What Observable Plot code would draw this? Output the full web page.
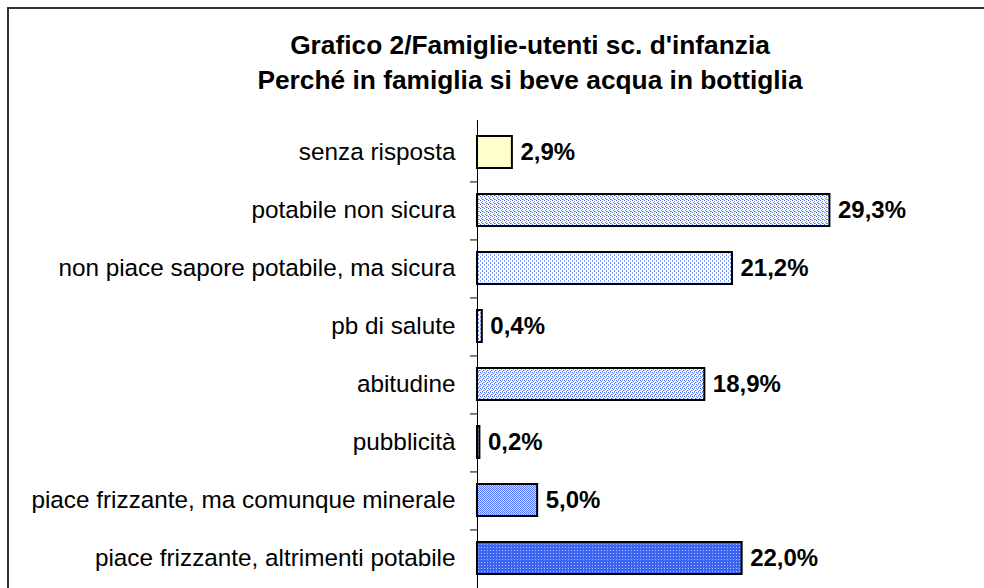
<!DOCTYPE html>
<html>
<head>
<meta charset="utf-8">
<script src="https://cdn.jsdelivr.net/npm/d3@7"></script>
<script src="https://cdn.jsdelivr.net/npm/@observablehq/plot@0.6"></script>
<style>
  html, body { margin: 0; padding: 0; background: #fff; overflow: hidden; width: 984px; height: 588px; }
  #wrap { position: relative; width: 984px; height: 588px; overflow: hidden; }
  #frame { position: absolute; left: 7px; top: 7px; width: 1100px; height: 700px; border: 2px solid #333; box-sizing: border-box; }
  #title { position: absolute; left: 130px; width: 800px; top: 28px; text-align: center;
           font-family: Arial, "Liberation Sans", sans-serif; font-weight: bold; font-size: 26.3px; line-height: 35px; color: #000; }
  #chart { position: absolute; left: 0; top: 0; }
</style>
</head>
<body>
<div id="wrap">
  <div id="frame"></div>
  <div id="chart"></div>
  <div id="title">Grafico 2/Famiglie-utenti sc. d'infanzia<br>Perché in famiglia si beve acqua in bottiglia</div>
</div>
<script>
const categories = [
  "senza risposta",
  "potabile non sicura",
  "non piace sapore potabile, ma sicura",
  "pb di salute",
  "abitudine",
  "pubblicità",
  "piace frizzante, ma comunque minerale",
  "piace frizzante, altrimenti potabile"
];
const values = [2.9, 29.3, 21.2, 0.4, 18.9, 0.2, 5.0, 22.0];
const patterns = ["pYellow", "pDotsFine", "pDotsSparse", "pDotsSparse", "pDotsMed", "pDotsMed", "pChecker", "pBlue"];

const data = categories.map((c, i) => ({category: c, value: values[i], fill: `url(#${patterns[i]})`}));

const W = 984, H = 591, mTop = 120, mBottom = 0, mLeft = 477, mRight = 86;
const step = (H - mTop - mBottom) / categories.length;

const plot = Plot.plot({
  width: W,
  height: H,
  marginTop: mTop,
  marginBottom: mBottom,
  marginLeft: mLeft,
  marginRight: mRight,
  style: {fontFamily: "Arial, 'Liberation Sans', sans-serif", fontSize: "24px", color: "#000", background: "transparent"},
  x: {domain: [0, 35], axis: null},
  y: {domain: categories, paddingInner: 0.44, paddingOuter: 0.22, label: null},
  color: {type: "identity"},
  marks: [
    Plot.axisY({tickSize: 0, tickPadding: 22, fontSize: 24.3, label: null}),
    Plot.barX(data, {y: "category", x: "value", fill: "fill", stroke: "#000", strokeWidth: 2}),
    Plot.ruleY(categories.slice(0, -1), {y: d => d, x1: 0, x2: -0.58, dy: step / 2, stroke: "#000", strokeWidth: 1}),
    Plot.ruleX([0], {stroke: "#000", strokeWidth: 1}),
    Plot.text(data, {y: "category", x: "value", text: d => d.value.toFixed(1).replace(".", ",") + "%",
      textAnchor: "start", dx: 8, fontWeight: "bold", fontSize: 24, fill: "#000"})
  ]
});

// pattern definitions
const ns = "http://www.w3.org/2000/svg";
const defs = document.createElementNS(ns, "defs");
function pattern(id, size, bg, cells) {
  const p = document.createElementNS(ns, "pattern");
  p.setAttribute("id", id);
  p.setAttribute("patternUnits", "userSpaceOnUse");
  p.setAttribute("width", size);
  p.setAttribute("height", size);
  const r = document.createElementNS(ns, "rect");
  r.setAttribute("width", size); r.setAttribute("height", size); r.setAttribute("fill", bg);
  p.appendChild(r);
  for (const [x, y, w, h, c] of cells) {
    const q = document.createElementNS(ns, "rect");
    q.setAttribute("x", x); q.setAttribute("y", y); q.setAttribute("width", w); q.setAttribute("height", h); q.setAttribute("fill", c);
    p.appendChild(q);
  }
  defs.appendChild(p);
}
pattern("pYellow", 4, "#FFFFCC", []);
pattern("pDotsFine", 4, "#FFFFFF", [[0,0,1,1,"#4A70F0"],[2,1,1,1,"#8CA6FF"],[1,2,1,1,"#5C80FF"],[3,3,1,1,"#8CA6FF"],[2,3,1,1,"#4A70F0"]]);
pattern("pDotsSparse", 4, "#FFFFFF", [[0,0,1,2,"#8CA6FF"],[2,2,1,2,"#6E8EFF"]]);
pattern("pDotsMed", 4, "#FFFFFF", [[0,0,1,1,"#3A62EE"],[2,0,1,1,"#8CA6FF"],[1,1,1,1,"#6E8EFF"],[3,2,1,1,"#3A62EE"],[0,2,1,1,"#A0B4FF"],[2,3,1,1,"#5C80FF"]]);
pattern("pChecker", 2, "#DDE4FF", [[0,0,1,1,"#4466EE"],[1,1,1,1,"#5577FF"]]);
pattern("pBlue", 3, "#3D66F0", [[1,1,1,1,"#AABBFF"]]);
plot.insertBefore(defs, plot.firstChild);

document.getElementById("chart").appendChild(plot);
</script>
</body>
</html>
